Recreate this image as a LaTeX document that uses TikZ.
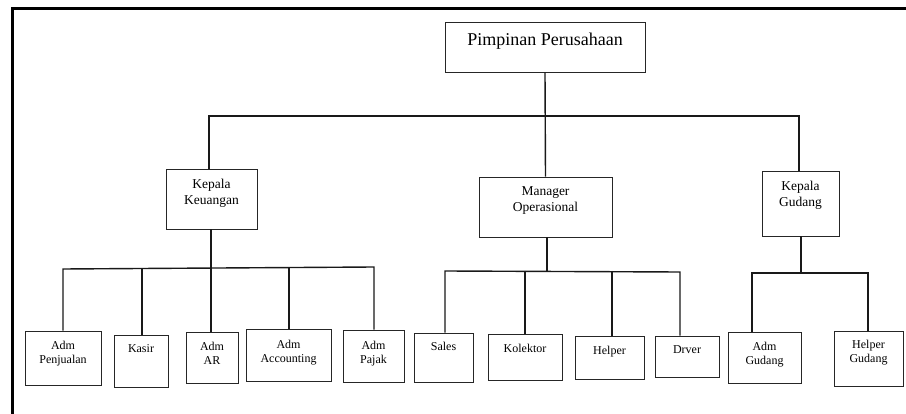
\documentclass[tikz,border=0pt]{standalone}
\usepackage{fontspec}
\setmainfont{Liberation Serif}
\begin{document}
\begin{tikzpicture}[x=1pt,y=-1pt,
  box/.style={draw=black!85, line width=0.9pt, rectangle, inner sep=0pt},
  toptext/.style={font=\fontsize{18}{20}\selectfont, inner sep=0pt, anchor=north, align=center},
  midtext/.style={font=\fontsize{13.5}{16}\selectfont, inner sep=0pt, anchor=north, align=center},
  leaftext/.style={font=\fontsize{12}{14}\selectfont, inner sep=0pt, anchor=north, align=center},
  wire/.style={draw=black!90, line width=1.4pt},
  frame/.style={draw=black, line width=3pt}]
\useasboundingbox (0,0) rectangle (906,414);
\fill[white] (0,0) rectangle (906,414);

% outer frame (left and top edges)
\draw[frame] (12,414) -- (12,9) -- (906,9);

% boxes: \node at centre with width/height
\newcommand{\orgbox}[5]{%
  \node[box, minimum width=#4-#2, minimum height=#5-#3] (#1) at ({(#2+#4)/2},{(#3+#5)/2}) {};}

\orgbox{pp}{445}{22}{645}{72}
\orgbox{kk}{166}{169}{257}{229}
\orgbox{mo}{479}{177}{612}{237}
\orgbox{kg}{762}{171}{839}{236}

\orgbox{ap}{25}{331}{101}{385}
\orgbox{ks}{114}{335}{168}{387}
\orgbox{ar}{186}{332}{238}{383}
\orgbox{ac}{246}{329}{331}{381}
\orgbox{pj}{343}{330}{404}{382}
\orgbox{sl}{414}{333}{473}{382}
\orgbox{kl}{488}{334}{562}{380}
\orgbox{hp}{575}{336}{644}{379}
\orgbox{dr}{655}{336}{719}{377}
\orgbox{ag}{728}{332}{801}{383}
\orgbox{hg}{834}{331}{903}{386}

% labels, hung from the top edge of each box
\node[toptext] (ppt) at ([yshift=-11]pp.north) {Pimpinan Perusahaan};
\node[midtext] (kkt) at ([yshift=-10]kk.north) {Kepala\\Keuangan};
\node[midtext] (mot) at ([yshift=-10]mo.north) {Manager\\Operasional};
\node[midtext] (kgt) at ([yshift=-10]kg.north) {Kepala\\Gudang};

\node[leaftext] (apt) at ([yshift=-10]ap.north) {Adm\\Penjualan};
\node[leaftext] (kst) at ([yshift=-10]ks.north) {Kasir};
\node[leaftext] (art) at ([yshift=-10]ar.north) {Adm\\AR};
\node[leaftext] (act) at ([yshift=-11]ac.north) {Adm\\Accounting};
\node[leaftext] (pjt) at ([yshift=-11]pj.north) {Adm\\Pajak};
\node[leaftext] (slt) at ([yshift=-9]sl.north) {Sales};
\node[leaftext] (klt) at ([yshift=-10]kl.north) {Kolektor};
\node[leaftext] (hpt) at ([yshift=-10]hp.north) {Helper};
\node[leaftext] (drt) at ([yshift=-10]dr.north) {Drver};
\node[leaftext] (agt) at ([yshift=-10]ag.north) {Adm\\Gudang};
\node[leaftext] (hgt) at ([yshift=-9]hg.north) {Helper\\Gudang};

% top level bus
\coordinate (t1) at (209,116);
\coordinate (t3) at (799,116);
\draw[wire] (pp.south) -- (mo.north);
\draw[wire] (t1 |- kk.north) -- (t1) -- (t3) -- (t3 |- kg.north);

% Kepala Keuangan branch
\coordinate (k0) at (211,268);
\coordinate (k1) at (63,269);
\coordinate (k2) at (142,269);
\coordinate (k4) at (289,268);
\coordinate (k5) at (374,267);
\draw[wire] (k0 |- kk.south) -- (k0 |- ar.north);
\draw[wire] (k1 |- ap.north) -- (k1) -- (k5) -- (k5 |- pj.north);
\draw[wire] (k2) -- (k2 |- ks.north);
\draw[wire] (k4) -- (k4 |- ac.north);

% Manager Operasional branch
\coordinate (m0) at (547,271);
\coordinate (m1) at (445,271);
\coordinate (m2) at (525,271);
\coordinate (m3) at (612,271);
\coordinate (m4) at (680,272);
\draw[wire] (m0 |- mo.south) -- (m0);
\draw[wire] (m1 |- sl.north) -- (m1) -- (m4) -- (m4 |- dr.north);
\draw[wire] (m2) -- (m2 |- kl.north);
\draw[wire] (m3) -- (m3 |- hp.north);

% Kepala Gudang branch
\coordinate (g0) at (801,273);
\coordinate (g1) at (752,273);
\coordinate (g2) at (868,273);
\draw[wire] (g0 |- kg.south) -- (g0);
\draw[wire] (g1 |- ag.north) -- (g1) -- (g2) -- (g2 |- hg.north);
\end{tikzpicture}
\end{document}
